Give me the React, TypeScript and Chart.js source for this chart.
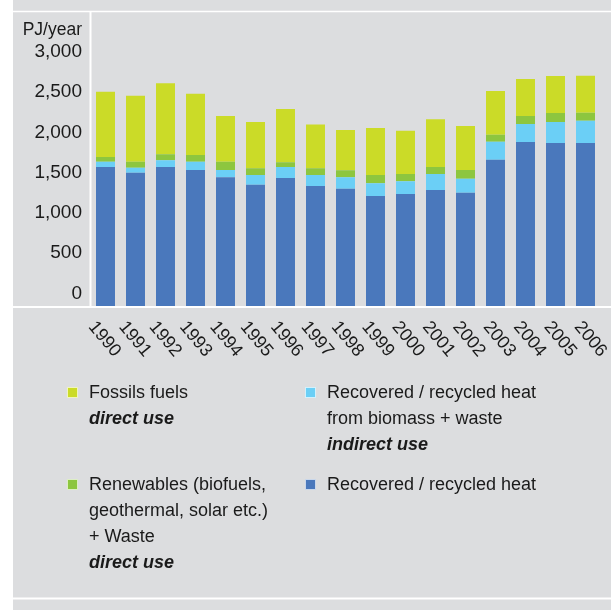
import React, { useEffect, useRef } from "react";
import { Chart, registerables } from "chart.js";

Chart.register(...registerables);

const years = ["1990","1991","1992","1993","1994","1995","1996","1997","1998","1999","2000","2001","2002","2003","2004","2005","2006"];
const recoveredHeat = [1570,1500,1570,1535,1445,1350,1435,1335,1300,1210,1235,1285,1250,1660,1880,1870,1870];
const recoveredBiomass = [65,60,85,100,90,120,135,135,145,160,160,200,175,225,225,260,275];
const renewables = [60,75,75,85,100,85,60,85,85,100,90,85,110,85,100,110,100];
const fossils = [810,820,880,760,570,575,660,545,500,585,535,595,545,545,460,460,460];
const yTicks = [0,500,1000,1500,2000,2500,3000];
const yUnit = "PJ/year";

const C_BLUE = "#4a78bc";
const C_CYAN = "#6bcff6";
const C_GREEN = "#8dc63f";
const C_YELLOW = "#cbdb28";
const BG = "#dcdddf";
const TXT = "#1a1a1a";
const FONT = "'Liberation Sans', Arial, sans-serif";

const panelPlugin = {
  id: "panel",
  beforeDraw(chart: any) {
    const ctx = chart.ctx;
    ctx.save();
    ctx.fillStyle = "#ffffff";
    ctx.fillRect(0, 0, chart.width, chart.height);
    ctx.fillStyle = BG;
    ctx.fillRect(13, 0, chart.width - 13, chart.height);
    ctx.restore();
  },
  afterDraw(chart: any) {
    const ctx = chart.ctx;
    const area = chart.chartArea;
    const x = chart.scales.x;
    ctx.save();
    ctx.strokeStyle = "#ffffff";
    ctx.lineWidth = 1.5;
    ctx.beginPath();
    ctx.moveTo(13, 11.5);
    ctx.lineTo(chart.width, 11.5);
    ctx.stroke();
    ctx.lineWidth = 2;
    ctx.beginPath();
    ctx.moveTo(13, area.bottom);
    ctx.lineTo(chart.width, area.bottom);
    ctx.stroke();
    ctx.beginPath();
    ctx.moveTo(area.left, 12);
    ctx.lineTo(area.left, area.bottom);
    ctx.stroke();
    ctx.beginPath();
    ctx.moveTo(13, 598.5);
    ctx.lineTo(chart.width, 598.5);
    ctx.stroke();

    ctx.fillStyle = TXT;
    ctx.font = "17.5px " + FONT;
    ctx.textAlign = "right";
    ctx.textBaseline = "middle";
    ctx.fillText(yUnit, area.left - 8.5, 30);

    ctx.font = "18px " + FONT;
    ctx.textAlign = "left";
    ctx.textBaseline = "top";
    const labels = chart.data.labels as string[];
    labels.forEach((lab: string, i: number) => {
      const px = x.getPixelForTick(i);
      ctx.save();
      ctx.translate(px - 7 + i * 0.375, 318);
      ctx.rotate((50 * Math.PI) / 180);
      ctx.fillText(lab, 0, 0);
      ctx.restore();
    });
    ctx.restore();
  },
};

function LegendItem(props: { color: string; x: number; y: number; lines: React.ReactNode[] }) {
  return (
    <div style={{ position: "absolute", left: props.x, top: props.y }}>
      <div
        style={{
          position: "absolute",
          left: 0,
          top: 8,
          width: 11,
          height: 11,
          boxSizing: "border-box",
          border: "1px solid rgba(255,255,255,0.7)",
          background: props.color,
        }}
      />
      <div
        style={{
          position: "absolute",
          left: 22,
          top: 0,
          whiteSpace: "nowrap",
          font: "18px " + FONT,
          lineHeight: "26px",
          color: TXT,
        }}
      >
        {props.lines.map((l, i) => (
          <div key={i}>{l}</div>
        ))}
      </div>
    </div>
  );
}

export default function App() {
  const ref = useRef<HTMLCanvasElement | null>(null);
  useEffect(() => {
    if (!ref.current) return;
    const chart = new Chart(ref.current, {
      type: "bar",
      data: {
        labels: years,
        datasets: [
          { label: "Recovered / recycled heat", data: recoveredHeat, backgroundColor: C_BLUE, base: -168 } as any,
          { label: "Recovered / recycled heat from biomass + waste (indirect use)", data: recoveredBiomass, backgroundColor: C_CYAN },
          { label: "Renewables (biofuels, geothermal, solar etc.) + Waste (direct use)", data: renewables, backgroundColor: C_GREEN },
          { label: "Fossils fuels (direct use)", data: fossils, backgroundColor: C_YELLOW },
        ],
      },
      options: {
        responsive: false,
        animation: false,
        maintainAspectRatio: false,
        layout: { padding: { left: 0, right: 10.5, top: 12, bottom: 0 } },
        datasets: { bar: { categoryPercentage: 1, barPercentage: 0.633, borderWidth: 0 } },
        plugins: { legend: { display: false }, tooltip: { enabled: false }, title: { display: false } },
        scales: {
          x: {
            stacked: true,
            grid: { display: false, drawTicks: false },
            border: { display: false },
            ticks: { display: false },
            afterFit: (s: any) => { s.height = 303; s.paddingLeft = 0; s.paddingRight = 0; },
          },
          y: {
            stacked: true,
            min: -168,
            max: 3496,
            grid: { display: false, drawTicks: false },
            border: { display: false },
            afterBuildTicks: (s: any) => { s.ticks = yTicks.map((v) => ({ value: v })); },
            afterFit: (s: any) => { s.width = 90.5; s.paddingTop = 0; s.paddingBottom = 0; },
            ticks: {
              padding: 8.5,
              color: TXT,
              font: { family: FONT, size: 19 },
              callback: (v: any) => Number(v).toLocaleString("en-US"),
            },
          },
        },
      },
      plugins: [panelPlugin],
    });
    return () => chart.destroy();
  }, []);

  const bi = (t: string) => <b style={{ fontStyle: "italic" }}>{t}</b>;

  return (
    <div style={{ position: "absolute", left: 0, top: 0, width: 611, height: 610 }}>
      <canvas ref={ref} width={611} height={610} style={{ display: "block", width: 611, height: 610 }} />
      <LegendItem color={C_YELLOW} x={67} y={379} lines={["Fossils fuels", bi("direct use")]} />
      <LegendItem color={C_CYAN} x={305} y={379} lines={["Recovered / recycled heat", "from biomass + waste", bi("indirect use")]} />
      <LegendItem color={C_GREEN} x={67} y={471} lines={["Renewables (biofuels,", "geothermal, solar etc.)", "+ Waste", bi("direct use")]} />
      <LegendItem color={C_BLUE} x={305} y={471} lines={["Recovered / recycled heat"]} />
    </div>
  );
}
